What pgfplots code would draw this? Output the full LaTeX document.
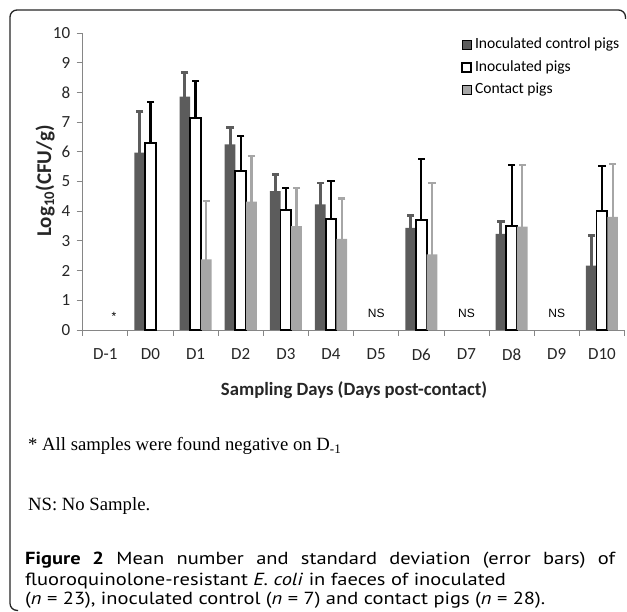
\documentclass[border=0pt]{standalone}
\usepackage{fontspec}
\usepackage{pgfplots}
\usepackage{pgfplotstable}
\pgfplotsset{compat=1.18}
\newfontfamily\carlito{Carlito}
\newfontfamily\lserif{Liberation Serif}
\newfontfamily\lsans{Liberation Sans}
\newfontfamily\capfont{PT Sans}[FakeStretch=1.17]
\definecolor{darkg}{HTML}{5C5C5C}
\definecolor{lightg}{HTML}{A6A6A6}
\definecolor{axisg}{HTML}{868686}
\pgfplotstableread{
x y e
1.5 5.97 1.38
2.5 7.86 0.80
3.5 6.25 0.56
4.5 4.68 0.55
5.5 4.23 0.72
7.5 3.44 0.41
9.5 3.24 0.42
11.5 2.17 1.02
}\ctrl
\pgfplotstableread{
x y e
1.5 6.29 1.40
2.5 7.13 1.25
3.5 5.36 1.17
4.5 4.04 0.73
5.5 3.74 1.28
7.5 3.71 2.04
9.5 3.51 2.05
11.5 4.02 1.51
}\inoc
\pgfplotstableread{
x y e
2.5 2.38 1.96
3.5 4.32 1.54
4.5 3.50 1.27
5.5 3.07 1.36
7.5 2.55 2.41
9.5 3.48 2.08
11.5 3.81 1.78
}\contact
\begin{document}
\begin{tikzpicture}[x=1pt,y=1pt]
\path[use as bounding box] (0,0) rectangle (627,611);
\draw[line width=1.3pt, color=black!85, rounded corners=7pt] (18,0.6) -- (10,0.6) -- (10,601) -- (625.5,601) -- (625.5,592);
\begin{axis}[
  scale only axis, width=541.8pt, height=297pt,
  at={(82.7pt,281pt)}, anchor=south west,
  xmin=0, xmax=12, ymin=0, ymax=10,
  axis lines*=left,
  axis line style={draw=axisg, line width=0.8pt},
  tick style={draw=axisg, line width=0.8pt},
  tick align=outside, major tick length=6pt,
  xtick={0,...,12}, x tick label as interval,
  xticklabels={D-1,D0,D1,D2,D3,D4,D5,D6,D7,D8,D9,D10},
  ytick={0,...,10},
  /pgf/number format/assume math mode=true,
  ticklabel style={font=\carlito\fontsize{17}{20}\selectfont, text=black!85},
  yticklabel style={xshift=-3pt},
  xticklabel style={yshift=-9pt},
  legend cell align=left,
  legend style={draw=none, fill=none, at={(0.6983,0.985)}, anchor=north west,
    font=\carlito\fontsize{15.6}{18}\selectfont, row sep=8pt, inner sep=0pt,
    nodes={inner sep=0pt, text height=11pt, text depth=3.5pt},
    /tikz/every odd column/.append style={column sep=3pt}},
  legend image code/.code={\draw[#1] (0pt,-4.5pt) rectangle (9pt,4.5pt);},
  clip=false,
]
% error bars (mean + SD), drawn behind the bars
\addplot[forget plot, ycomb, draw=darkg, line width=3pt, mark=-, mark size=3.6pt,
  mark options={draw=darkg, line width=2.8pt}]
  table[x expr=\thisrow{x}-0.237, y expr=\thisrow{y}+\thisrow{e}] {\ctrl};
\addplot[forget plot, ycomb, draw=black, line width=2.2pt, mark=-, mark size=3.6pt,
  mark options={draw=black, line width=2.2pt}]
  table[x expr=\thisrow{x}, y expr=\thisrow{y}+\thisrow{e}] {\inoc};
\addplot[forget plot, ycomb, draw=lightg, line width=2.2pt, mark=-, mark size=3.6pt,
  mark options={draw=lightg, line width=2.2pt}]
  table[x expr=\thisrow{x}+0.237, y expr=\thisrow{y}+\thisrow{e}] {\contact};
% bars
\addplot[ybar, fill=darkg, draw=none, bar width=0.237, bar shift=-0.237]
  table[x=x, y=y] {\ctrl};
\addlegendentry{Inoculated control pigs}
\addplot[ybar, fill=white, draw=black, line width=1.8pt, bar width=0.237, bar shift=0]
  table[x=x, y=y] {\inoc};
\addlegendentry{Inoculated pigs}
\addplot[ybar, fill=lightg, draw=none, bar width=0.237, bar shift=0.237]
  table[x=x, y=y] {\contact};
\addlegendentry{Contact pigs}
\node[font=\lsans\fontsize{12}{14}\selectfont] at (axis cs:0.69,0.45) {*};
\node[font=\lsans\fontsize{12}{14}\selectfont] at (axis cs:6.5,0.57) {NS};
\node[font=\lsans\fontsize{12}{14}\selectfont] at (axis cs:8.5,0.57) {NS};
\node[font=\lsans\fontsize{12}{14}\selectfont] at (axis cs:10.5,0.57) {NS};
\end{axis}
\node[rotate=90, font=\carlito\bfseries\fontsize{21}{24}\selectfont, text=black!85] at (45,430) {Log\textsubscript{10}(CFU/g)};
\node[font=\carlito\bfseries\fontsize{18.7}{22}\selectfont, text=black!85] at (354,221) {Sampling Days (Days post-contact)};
\node[anchor=base west, inner sep=0pt, font=\lserif\fontsize{18.7}{22}\selectfont] at (28,160) {* All samples were found negative on D\textsubscript{-1}};
\node[anchor=base west, inner sep=0pt, font=\lserif\fontsize{18.7}{22}\selectfont] at (28,100) {NS: No Sample.};
\node[anchor=base west, inner sep=0pt, font=\capfont\fontsize{17.5}{20}\selectfont] at (25,46) {\makebox[590pt][s]{\textbf{Figure 2} Mean number and standard deviation (error bars) of}};
\node[anchor=base west, inner sep=0pt, font=\capfont\fontsize{17.5}{20}\selectfont] at (25,26) {fluoroquinolone-resistant \textit{E. coli} in faeces of inoculated};
\node[anchor=base west, inner sep=0pt, font=\capfont\fontsize{17.5}{20}\selectfont] at (25,6) {(\textit{n} = 23), inoculated control (\textit{n} = 7) and contact pigs (\textit{n} = 28).};
\end{tikzpicture}
\end{document}
